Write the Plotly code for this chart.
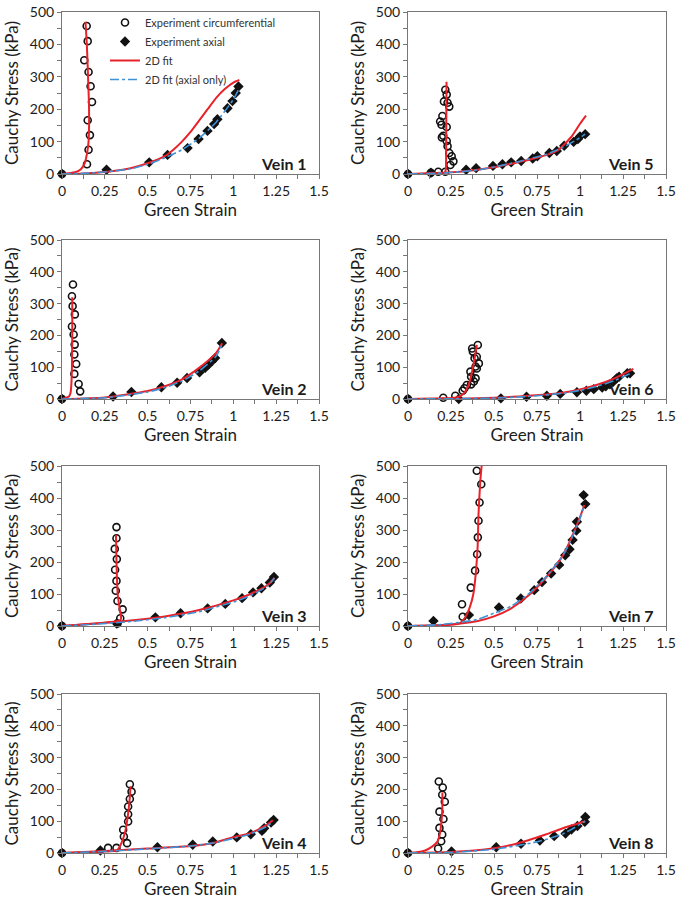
import plotly.graph_objects as go

# ---------------- data (index 0..7 = Vein 1..8) ----------------
vein_names = ["Vein 1", "Vein 2", "Vein 3", "Vein 4", "Vein 5", "Vein 6", "Vein 7", "Vein 8"]

circ_strain = [
    [0, 0.146, 0.155, 0.163, 0.150, 0.175, 0.167, 0.155, 0.130, 0.150, 0.144],
    [0, 0.106, 0.097, 0.072, 0.083, 0.072, 0.074, 0.068, 0.058, 0.075, 0.062, 0.058, 0.064],
    [0, 0.324, 0.340, 0.354, 0.324, 0.314, 0.318, 0.310, 0.320, 0.308, 0.318, 0.318],
    [0, 0.269, 0.318, 0.357, 0.361, 0.380, 0.386, 0.386, 0.386, 0.396, 0.406, 0.396],
    [0, 0.133, 0.176, 0.187, 0.195, 0.200, 0.205, 0.197, 0.209, 0.217, 0.225, 0.230, 0.240,
     0.225, 0.225, 0.230, 0.240, 0.254, 0.264, 0.246, 0.217],
    [0, 0.205, 0.275, 0.318, 0.328, 0.342, 0.363, 0.367, 0.373, 0.377, 0.387, 0.393, 0.393,
     0.400, 0.406, 0.412, 0.400, 0.383, 0.367],
    [0, 0.318, 0.314, 0.365, 0.390, 0.402, 0.406, 0.410, 0.416, 0.426, 0.400],
    [0, 0.175, 0.193, 0.199, 0.183, 0.206, 0.183, 0.214, 0.199, 0.202, 0.179],
]
circ_stress = [
    [0, 30, 75, 120, 166, 222, 271, 315, 351, 410, 457],
    [0, 24, 47, 79, 110, 140, 171, 203, 228, 266, 292, 323, 360],
    [0, 8, 24, 52, 78, 110, 141, 176, 209, 241, 274, 309],
    [0, 16, 16, 73, 52, 31, 99, 122, 146, 170, 193, 216],
    [0, 4, 7, 162, 152, 179, 118, 113, 224, 260, 245, 220, 208, 145, 102, 86, 65, 55, 39, 28, 7],
    [0, 4, 10, 26, 34, 44, 86, 70, 159, 149, 128, 102, 65, 133, 170, 112, 96, 55, 46],
    [0, 29, 68, 120, 173, 224, 277, 329, 386, 443, 485],
    [0, 14, 37, 58, 79, 107, 130, 161, 183, 206, 225],
]

axial_strain = [
    [0, 0.26, 0.509, 0.616, 0.733, 0.797, 0.849, 0.888, 0.907, 0.966, 0.995, 1.014, 1.030],
    [0, 0.298, 0.405, 0.580, 0.672, 0.730, 0.803, 0.836, 0.855, 0.875, 0.894, 0.933],
    [0, 0.320, 0.545, 0.692, 0.850, 0.953, 1.051, 1.115, 1.164, 1.213, 1.237],
    [0, 0.224, 0.557, 0.763, 0.880, 1.020, 1.102, 1.167, 1.180, 1.220, 1.235],
    [0, 0.133, 0.338, 0.396, 0.494, 0.549, 0.600, 0.658, 0.725, 0.752, 0.822, 0.865, 0.908,
     0.963, 0.988, 1.000, 1.030],
    [0, 0.295, 0.540, 0.689, 0.807, 0.885, 0.982, 1.037, 1.080, 1.129, 1.150, 1.174, 1.193,
     1.213, 1.227, 1.275, 1.291],
    [0, 0.148, 0.354, 0.529, 0.656, 0.734, 0.779, 0.832, 0.879, 0.914, 0.939, 0.957, 0.979,
     0.982, 1.021, 1.031],
    [0, 0.253, 0.513, 0.657, 0.767, 0.850, 0.916, 0.950, 0.985, 1.028, 1.031],
]
axial_stress = [
    [0, 13, 36, 59, 80, 108, 133, 154, 169, 203, 225, 250, 270],
    [0, 8, 22, 37, 51, 66, 84, 98, 108, 119, 129, 176],
    [0, 8, 27, 40, 55, 69, 87, 105, 118, 136, 153],
    [0, 8, 18, 26, 36, 49, 59, 70, 78, 96, 104],
    [0, 4, 13, 18, 25, 30, 36, 40, 48, 55, 65, 71, 87, 99, 108, 116, 123],
    [0, 0, 2, 7, 10, 16, 21, 26, 31, 36, 40, 46, 54, 65, 70, 81, 81],
    [0, 16, 34, 58, 86, 112, 137, 164, 191, 221, 240, 269, 298, 326, 409, 381],
    [0, 5, 18, 29, 39, 53, 61, 74, 85, 98, 113],
]

# 2D fit, circumferential branch
fitc_strain = [
    [0, 0.04, 0.08, 0.11, 0.13, 0.145, 0.155, 0.158, 0.152, 0.145, 0.137],
    [0, 0.02, 0.04, 0.05, 0.055, 0.058, 0.060, 0.060],
    [0, 0.10, 0.20, 0.30, 0.34, 0.345, 0.335, 0.325, 0.318, 0.315],
    [0, 0.25, 0.32, 0.35, 0.37, 0.385, 0.395, 0.400],
    [0, 0.10, 0.20, 0.215, 0.220, 0.222, 0.223, 0.224],
    [0, 0.20, 0.28, 0.32, 0.35, 0.37, 0.385, 0.400],
    [0, 0.20, 0.30, 0.33, 0.36, 0.38, 0.395, 0.405, 0.410, 0.420, 0.428],
    [0, 0.05, 0.10, 0.14, 0.17, 0.185, 0.195, 0.200, 0.200],
]
fitc_stress = [
    [0, 2, 6, 15, 30, 60, 100, 200, 300, 400, 470],
    [0, 3, 8, 20, 50, 100, 200, 320],
    [0, 4, 8, 13, 18, 25, 60, 100, 200, 285],
    [0, 5, 8, 35, 70, 120, 170, 210],
    [0, 0.5, 2, 5, 15, 100, 200, 285],
    [0, 2, 5, 15, 40, 80, 120, 170],
    [0, 2, 8, 25, 60, 100, 170, 250, 350, 450, 500],
    [0, 2, 8, 20, 35, 60, 100, 150, 190],
]

# 2D fit, axial branch
fita_strain = [
    [0, 0.1, 0.2, 0.3, 0.4, 0.5, 0.6, 0.65, 0.7, 0.75, 0.8, 0.85, 0.9, 0.95, 1.0, 1.035],
    [0, 0.25, 0.5, 0.6, 0.7, 0.8, 0.9, 0.935],
    [0, 0.2, 0.4, 0.6, 0.8, 1.0, 1.1, 1.2, 1.24],
    [0, 0.25, 0.5, 0.75, 0.87, 0.95, 1.0, 1.1, 1.2, 1.23],
    [0, 0.3, 0.5, 0.75, 0.865, 0.95, 1.0, 1.035],
    [0, 0.3, 0.5, 0.7, 0.9, 1.0, 1.1, 1.2, 1.31],
    [0, 0.2, 0.4, 0.5, 0.6, 0.7, 0.8, 0.9, 0.95, 1.0, 1.025],
    [0, 0.25, 0.5, 0.6, 0.7, 0.8, 0.9, 1.0, 1.03],
]
fita_stress = [
    [0, 1, 4, 9, 18, 33, 55, 75, 100, 130, 165, 200, 235, 262, 282, 290],
    [0, 5, 25, 40, 62, 98, 145, 175],
    [0, 8, 17, 30, 50, 80, 100, 128, 150],
    [0, 6, 14, 22, 30, 42, 50, 62, 90, 103],
    [0, 7, 21, 50, 71, 115, 155, 180],
    [0, 1, 4, 10, 20, 30, 45, 65, 95],
    [0, 3, 15, 30, 55, 95, 150, 220, 275, 340, 378],
    [0, 3, 15, 25, 40, 58, 78, 95, 100],
]

# 2D fit (axial only)
axo_strain = [
    [0, 0.2, 0.4, 0.5, 0.6, 0.7, 0.8, 0.9, 1.0, 1.035],
    [0, 0.25, 0.5, 0.6, 0.7, 0.8, 0.9, 0.935],
    [0, 0.2, 0.4, 0.6, 0.8, 1.0, 1.1, 1.2, 1.24],
    [0, 0.25, 0.5, 0.75, 0.9, 1.0, 1.1, 1.2, 1.23],
    [0, 0.2, 0.4, 0.6, 0.8, 0.9, 1.0, 1.03],
    [0, 0.3, 0.5, 0.7, 0.9, 1.0, 1.1, 1.2, 1.29],
    [0, 0.2, 0.4, 0.5, 0.6, 0.7, 0.8, 0.9, 0.95, 1.0, 1.02],
    [0, 0.25, 0.5, 0.75, 0.9, 1.03],
]
axo_stress = [
    [0, 4, 16, 30, 50, 75, 110, 160, 230, 265],
    [0, 4, 22, 36, 56, 88, 135, 172],
    [0, 6, 14, 26, 45, 75, 95, 125, 150],
    [0, 5, 13, 22, 33, 46, 60, 85, 100],
    [0, 3, 12, 33, 60, 82, 112, 123],
    [0, 1, 3, 8, 18, 27, 40, 58, 80],
    [0, 5, 20, 40, 62, 100, 152, 220, 272, 335, 370],
    [0, 2, 12, 35, 60, 100],
]

x_ticks = [0, 0.25, 0.5, 0.75, 1, 1.25, 1.5]
x_tick_text = ["0", "0.25", "0.5", "0.75", "1", "1.25", "1.5"]
y_ticks = [0, 100, 200, 300, 400, 500]

# ---------------- layout geometry ----------------
W, H = 680, 900
col_px = [(62, 319), (408, 666)]
row_px = [(12, 174), (240, 399), (466, 626), (694, 853)]

FONT = "Lato, 'Open Sans', sans-serif"
RED = "#e8222a"
BLUE = "#3f92d6"
TXT = "#1c1c1c"

fig = go.Figure()
layout = dict(
    width=W, height=H,
    margin=dict(l=0, r=0, t=0, b=0, autoexpand=False),
    paper_bgcolor="white", plot_bgcolor="white",
    font=dict(family=FONT, color=TXT),
    showlegend=True,
)

annotations = []
for i in range(8):
    col = 0 if i < 4 else 1
    row = i % 4
    n = i + 1
    xa = "x" if n == 1 else f"x{n}"
    ya = "y" if n == 1 else f"y{n}"
    xkey = "xaxis" if n == 1 else f"xaxis{n}"
    ykey = "yaxis" if n == 1 else f"yaxis{n}"
    first = (i == 0)

    fig.add_trace(go.Scatter(
        x=circ_strain[i], y=circ_stress[i], mode="markers", xaxis=xa, yaxis=ya,
        name="Experiment circumferential", legendgroup="c", showlegend=first,
        marker=dict(symbol="circle-open", size=7, color="#111", line=dict(width=1.6)),
        cliponaxis=False,
    ))
    fig.add_trace(go.Scatter(
        x=axial_strain[i], y=axial_stress[i], mode="markers", xaxis=xa, yaxis=ya,
        name="Experiment axial", legendgroup="a", showlegend=first,
        marker=dict(symbol="diamond", size=8, color="#111"),
        cliponaxis=False,
    ))
    fig.add_trace(go.Scatter(
        x=fitc_strain[i] + [None] + fita_strain[i],
        y=fitc_stress[i] + [None] + fita_stress[i],
        mode="lines", xaxis=xa, yaxis=ya,
        name="2D fit", legendgroup="f", showlegend=first,
        line=dict(color=RED, width=2, shape="spline", smoothing=0.6),
    ))
    fig.add_trace(go.Scatter(
        x=axo_strain[i], y=axo_stress[i], mode="lines", xaxis=xa, yaxis=ya,
        name="2D fit (axial only)", legendgroup="b", showlegend=first,
        line=dict(color=BLUE, width=1.6, dash="dashdot", shape="spline", smoothing=0.6),
    ))

    x0, x1 = col_px[col]
    yt, yb = row_px[row]
    layout[xkey] = dict(
        domain=[x0 / W, x1 / W], anchor=ya, range=[0, 1.5], automargin=False,
        tickvals=x_ticks, ticktext=x_tick_text,
        ticks="outside", ticklen=4, tickcolor="#777",
        minor=dict(dtick=0.125, ticks="outside", ticklen=4, tickcolor="#777"),
        showline=True, linecolor="#777", linewidth=1, mirror=True,
        showgrid=False, zeroline=False,
        tickfont=dict(size=14, family=FONT, color=TXT),
        title=dict(text="Green Strain", font=dict(size=17, family=FONT, color=TXT), standoff=2),
    )
    layout[ykey] = dict(
        domain=[1 - yb / H, 1 - yt / H], anchor=xa, range=[0, 500], automargin=False,
        tickvals=y_ticks,
        ticks="outside", ticklen=4, tickcolor="#777",
        minor=dict(dtick=50, ticks="outside", ticklen=4, tickcolor="#777"),
        showline=True, linecolor="#777", linewidth=1, mirror=True,
        showgrid=False, zeroline=False,
        tickfont=dict(size=14, family=FONT, color=TXT),
        title=dict(text="Cauchy Stress (kPa)", font=dict(size=17, family=FONT, color=TXT), standoff=6),
    )
    annotations.append(dict(
        x=1.44, y=32, xref=xa, yref=ya, text="<b>" + vein_names[i] + "</b>",
        showarrow=False, xanchor="right", yanchor="middle",
        font=dict(size=16, family=FONT, color=TXT),
    ))

layout["annotations"] = annotations
layout["legend"] = dict(
    x=105 / W, y=1 - 8 / H, xanchor="left", yanchor="top",
    bgcolor="rgba(0,0,0,0)", font=dict(size=11, family=FONT, color="#333"),
    itemwidth=30, tracegroupgap=0, traceorder="normal",
)
fig.update_layout(**layout)
fig.write_html(
    "out.html",
    config={"displayModeBar": False},
    post_script="document.body.style.margin='0';document.body.style.padding='0';",
)
